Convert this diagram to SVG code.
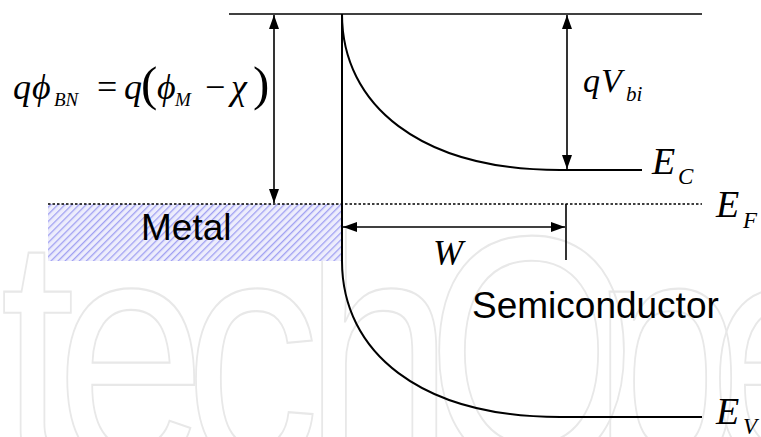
<svg xmlns="http://www.w3.org/2000/svg" width="761" height="437" viewBox="0 0 761 437">
<style>
.ln{stroke:#000;stroke-width:1.6;fill:none}
.band{stroke:#000;stroke-width:2;fill:none}
.dot{stroke:#000;stroke-width:1.4;stroke-dasharray:2.5 2;fill:none}
.m{font-family:"Liberation Serif","Times New Roman",serif;font-style:italic;fill:#000}
.up{font-family:"Liberation Serif","Times New Roman",serif;font-style:normal;fill:#000}
.lab{font-family:"Liberation Sans",Arial,sans-serif;font-size:37px;fill:#000}
.wm{font-family:"Liberation Sans",Arial,sans-serif;font-size:330px;fill:none;stroke:#e8e8e8;stroke-width:2}
</style>
<defs>
<pattern id="hatch" patternUnits="userSpaceOnUse" width="5" height="5" patternTransform="rotate(45)">
<rect width="5" height="5" fill="#ededfc"/>
<line x1="0" y1="0" x2="0" y2="5" stroke="#a0a0f2" stroke-width="2.6"/>
</pattern>
<marker id="ah" viewBox="0 0 14 10" refX="14" refY="5" markerWidth="14" markerHeight="10" markerUnits="userSpaceOnUse" orient="auto-start-reverse">
<path d="M0,0 L14,5 L0,10 Z" fill="#000"/>
</marker>
</defs>
<g id="watermark">
<text class="wm" transform="translate(0,466) scale(0.82,1)" x="0 68 225 370 520 722 864 1020" y="0" vector-effect="non-scaling-stroke">techOpen</text>
</g>
<g id="metal">
<rect x="48" y="204" width="294" height="57" fill="url(#hatch)"/>
<text class="lab" x="141" y="240">Metal</text>
</g>
<g id="bands">
<line class="ln" x1="229" y1="14" x2="702" y2="14" stroke="#333"/>
<line class="dot" x1="48" y1="204" x2="702" y2="204"/>
<path id="ec" class="band" d="M342,14 C342,105 420,170 560,170 L642,170"/>
<path id="ev" class="band" d="M342,14 L342,261 C342,352 420,417 560,417 L702,417"/>
</g>
<g id="connectors">
<line class="ln" x1="274" y1="15" x2="274" y2="203" marker-start="url(#ah)" marker-end="url(#ah)"/>
<line class="ln" x1="567" y1="15" x2="567" y2="169" marker-start="url(#ah)" marker-end="url(#ah)"/>
<line class="ln" x1="343" y1="227" x2="565" y2="227" marker-start="url(#ah)" marker-end="url(#ah)"/>
<line class="ln" x1="566" y1="204" x2="566" y2="260" stroke-width="1.2"/>
</g>
<g id="eq-phiBN">
<text class="m" font-size="36" x="13" y="99">q</text>
<text class="m" font-size="36" x="32" y="99">ϕ</text>
<text class="m" font-size="19" x="54" y="106">BN</text>
<text class="up" font-size="36" x="97" y="99">=</text>
<text class="m" font-size="36" x="124" y="99">q</text>
<text class="up" font-size="49" x="141" y="100">(</text>
<text class="m" font-size="36" x="157" y="99">ϕ</text>
<text class="m" font-size="19" x="175" y="106">M</text>
<text class="up" font-size="36" x="205" y="99">−</text>
<text class="m" font-size="36" x="231" y="99">χ</text>
<text class="up" font-size="49" x="253" y="100">)</text>
</g>
<g id="eq-qVbi">
<text class="m" font-size="34" x="583" y="92">q</text>
<text class="m" font-size="34" x="601" y="92">V</text>
<text class="m" font-size="21" x="626" y="101">bi</text>
</g>
<g id="label-EC">
<text class="m" font-size="38" x="652" y="174">E</text>
<text class="m" font-size="23" x="678" y="184">C</text>
</g>
<g id="label-EF">
<text class="m" font-size="38" x="716" y="217">E</text>
<text class="m" font-size="23" x="743" y="228">F</text>
</g>
<g id="label-EV">
<text class="m" font-size="38" x="716" y="424">E</text>
<text class="m" font-size="23" x="743" y="434">V</text>
</g>
<g id="label-W">
<text class="m" font-size="36" x="433" y="265">W</text>
</g>
<g id="label-semi">
<text class="lab" x="472" y="318">Semiconductor</text>
</g>
</svg>
